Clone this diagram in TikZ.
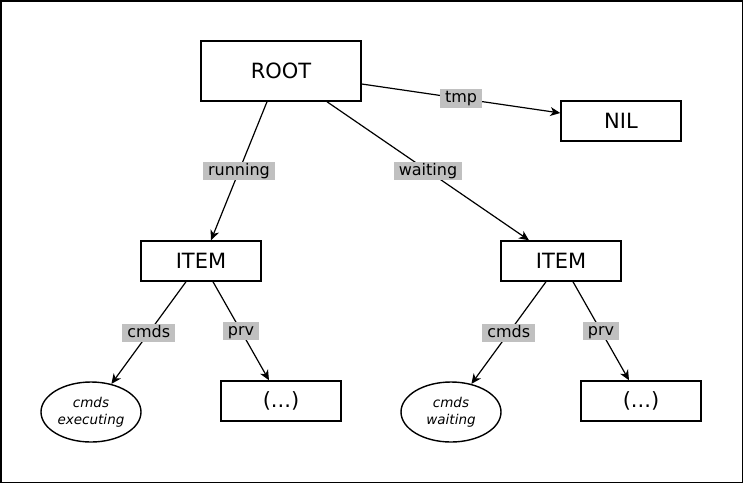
\documentclass[tikz,border=0pt]{standalone}
\usepackage{fontspec}
\setmainfont{DejaVu Sans}
\usetikzlibrary{arrows.meta,positioning,shapes.geometric}
\definecolor{lblgray}{RGB}{192,192,192}

\begin{document}
\begin{tikzpicture}[x=1pt,y=-1pt,
    box/.style={draw,line width=1.5pt,inner sep=0pt,minimum width=120pt,minimum height=40pt,font=\fontsize{21}{24}\selectfont},
    cmdset/.style={draw,ellipse,line width=1.4pt,inner sep=0pt,minimum width=100pt,minimum height=60pt,align=center,font=\fontsize{13.5}{17}\selectfont\itshape},
    ptr/.style={-{Stealth[length=10pt,width=9pt,inset=3pt]},line width=1.2pt},
    lbl/.style={fill=lblgray,inner xsep=5pt,inner ysep=1.5pt,text height=12pt,text depth=3.5pt,font=\fontsize{16}{19}\selectfont}]
        \useasboundingbox (0,0) rectangle (743,483);
        \draw[line width=1.5pt] (0.75,0.75) rectangle (742.25,482.25);
        % top level
        \node[box,minimum width=160pt,minimum height=60pt] (root) at (281,71) {ROOT};
        \node[box] (nil) at (621,121) {NIL};
        \node[box] (iteml) at (201,261) {ITEM};
        \node[box] (itemr) at (561,261) {ITEM};
        % leaves
        \node[cmdset] (exec) at (91,412) {cmds\\executing};
        \node[box] (prvl) at (281,401) {(...)};
        \node[cmdset] (wait) at (451,412) {cmds\\waiting};
        \node[box] (prvr) at (641,401) {(...)};
        % pointers
        \draw[ptr] ([yshift=-13pt]root.east) -- node[lbl]{tmp} ([yshift=8pt]nil.west);
        \draw[ptr] ([xshift=-14pt]root.south) -- node[lbl]{running} ([xshift=10pt]iteml.north);
        \draw[ptr] ([xshift=46pt]root.south) -- node[lbl]{waiting} ([xshift=-32pt]itemr.north);
        \draw[ptr] ([xshift=-15pt]iteml.south) -- node[lbl]{cmds} (exec.54);
        \draw[ptr] ([xshift=12pt]iteml.south) -- node[lbl]{prv} ([xshift=-12pt]prvl.north);
        \draw[ptr] ([xshift=-15pt]itemr.south) -- node[lbl]{cmds} (wait.54);
        \draw[ptr] ([xshift=12pt]itemr.south) -- node[lbl]{prv} ([xshift=-12pt]prvr.north);
\end{tikzpicture}
\end{document}
